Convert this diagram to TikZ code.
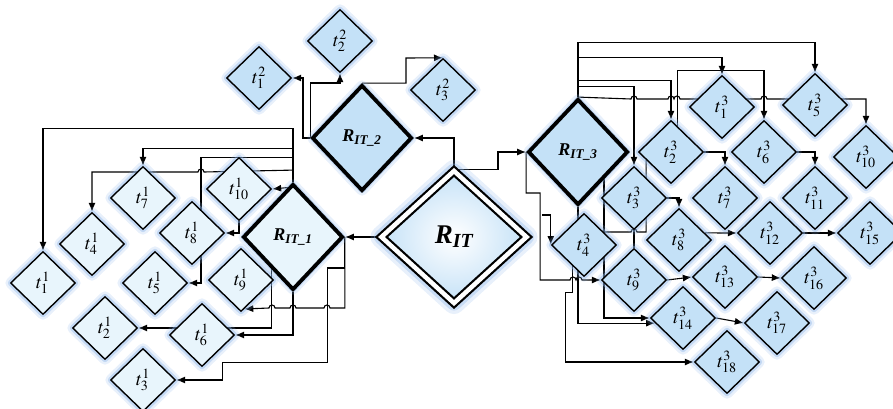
\documentclass[tikz,border=0pt]{standalone}
\usepackage{mathptmx}
\usepackage{fontspec}
\setmainfont{Liberation Serif}
\usetikzlibrary{shapes,arrows,arrows.meta,calc}
\definecolor{paleblue}{HTML}{E8F5FC}
\definecolor{skyblue}{HTML}{C4E1F7}
\definecolor{glowblue}{HTML}{8DB6EA}
\pgfdeclarelayer{bg}
\pgfsetlayers{bg,main}

\begin{document}
\begin{tikzpicture}[x=1pt, y=-1pt,
    halo/.style={preaction={draw=glowblue, line width=11pt, draw opacity=.2, line join=round},
        preaction={draw=glowblue, line width=6pt, draw opacity=.4, line join=round}},
    task/.style={diamond, draw, line width=1.4pt, inner sep=0pt, minimum width=65pt,
        minimum height=63pt, halo, font=\fontsize{19}{21}\selectfont},
    taskA/.style={task, fill=paleblue},
    taskB/.style={task, fill=skyblue},
    robot/.style={diamond, draw, line width=3.8pt, inner sep=0pt, minimum width=100pt,
        minimum height=106pt, halo, font=\fontsize{18}{20}\selectfont\bfseries\itshape},
    link/.style={line width=1.1pt, -{Latex[length=9pt,width=7pt]}},
    wire/.style={line width=1.1pt}]
    \useasboundingbox (0,0) rectangle (893,409);
    % first cluster
    \foreach \n/\x/\y in {1/43/283, 2/105/328, 3/143/380, 4/92/244, 5/155/283,
        6/202/335, 7/143/198, 8/192/233, 9/241/280, 10/239/189} {
        \node[taskA] (a\n) at (\x,\y) {$t^{1}_{\n}$};
    }
    \foreach \n/\x/\y in {1/259/78, 2/340/41, 3/443/90} {
        \node[taskB] (b\n) at (\x,\y) {$t^{2}_{\n}$};
    }
    \foreach \n/\x/\y in {1/722/107, 2/671/152, 3/634/198, 4/584/245, 5/815/105,
        6/764/152, 7/725/198, 8/679/240, 9/634/280, 10/866/157, 11/815/198,
        12/770/233, 13/725/277, 14/683/318, 15/870/233, 16/814/278, 17/777/323,
        18/727/362} {
        \node[taskB] (c\n) at (\x,\y) {$t^{3}_{\n}$};
    }
    \node[robot, fill=paleblue] (r1) at (293,237) {R\textsubscript{IT\_1}};
    \node[robot, fill=skyblue] (r2) at (362,138) {R\textsubscript{IT\_2}};
    \node[robot, fill=skyblue] (r3) at (578,152) {R\textsubscript{IT\_3}};
    \node[diamond, draw, line width=2.2pt, double=white, double distance=4.5pt,
        inner color=white, outer color=skyblue, minimum width=146pt, minimum height=133pt,
        preaction={draw=glowblue, line width=22pt, draw opacity=.2, line join=round},
        preaction={draw=glowblue, line width=15pt, draw opacity=.35, line join=round},
        font=\fontsize{27}{30}\selectfont\bfseries\itshape] (rit) at (454,237) {R\textsubscript{IT}};

    \begin{pgfonlayer}{bg}
    \draw [link] (rit.west) -- (r1.east);
    \draw [link] (rit.north) |- (r2.east);
    \draw [link] (rit.north) -| (498,152) -- (r3.west);
    % second robot
    \draw [link] (r2.west) -| (303,78) -- (b1.east);
    \draw [link] (r2.west) -- ++(0,-55) -| (b2.south);
    \draw [link] (r2.north) -| (406,58) -- (b3.north);
    % first robot
    \draw [link] (r1.north) -- ++(0,-54) -| (a1.north);
    \draw [link] (r1.north) -- ++(0,-34) -| (a7.north);
    \draw [link] (r1.north) -- ++(0,-25) -| (201,283) -- (a5.east);
    \draw [link] (r1.north) -- ++(0,-12) -- (204,172)
        arc [start angle=0, end angle=-180, radius=3] -| (a4.north);
    \draw [link] ($(r1.north)+(0,5)$) -- (a10.east);
    \draw [link] (a10.south) |- (a8.east);
    \draw [link] (r1.south) |- (a6.east);
    \draw [link] ($(r1.west)!0.58!(r1.south)$) |- (a2.east);
    \draw [link] (r1.east) |- (330,308) arc [start angle=0, end angle=-180, radius=3]
        -- (296,308) arc [start angle=0, end angle=-180, radius=3]
        -- (275,308) arc [start angle=0, end angle=-180, radius=3]
        -- ($(a9.south)!0.1!(a9.east)$);
    \draw [link] (r1.east) -- ++(0,31) -| (327.5,362.5) -- (222.5,362.5) |- (a3.east);
    % third robot
    \draw [link] (r3.north) -- ++(0,-55) -| (c5.north);
    \draw [link] (r3.north) -- ++(0,-40) -| (c1.north);
    \draw [link] (r3.north) -- ++(0,-17) -| (c2.north);
    \draw [link] (r3.north) -- ++(0,-11) -| (c3.north);
    \draw [link] (r3.north) -- (631,99) arc [start angle=180, end angle=360, radius=3]
        -- (668,99) arc [start angle=180, end angle=360, radius=3]
        arc [start angle=180, end angle=360, radius=3]
        -- (761,99) arc [start angle=180, end angle=360, radius=3] -| (c10.north);
    \draw [link] ($(c2.north)!0.2!(c2.east)$) -- ++(0,-56) -| (c6.north);
    \draw [link] (c2.east) -| (c7.north);
    \draw [link] (c6.east) -| (c11.north);
    \draw [link] (c3.east) -| (c8.north);
    \draw [link] ($(c8.east)!0.22!(c8.north)$) -- (c12.west);
    \draw [link] (c12.east) -- (c15.west);
    \draw [link] (c9.east) -- (c13.west);
    \draw [link] (c13.east) -- (c16.west);
    \draw [link] (c14.east) -- (c17.west);
    \draw [wire] (c3.south) -- (c9.north);
    \draw [wire] ($(c2.west)!0.25!(c2.south)$) |- (637,232)
        arc [start angle=0, end angle=-180, radius=3] -- (603,232);
    \coordinate (j1) at (542,215);
    \draw [link] (r3.west) -- ++(0,41) -- ++(14,0) |- (570,280)
        arc [start angle=180, end angle=360, radius=3]
        arc [start angle=180, end angle=360, radius=3] -- (c9.west);
    \draw [link] (j1) -| (c4.west);
    \draw [link] (r3.south) |- ($(c14.west)!0.16!(c14.south)$);
    \draw [link] ($(r3.east)!0.5!(r3.south)$) |- (c14.west);
    \draw [link] ($(c4.south)!0.35!(c4.west)$) -- ++(0,27) -- ++(-7,0) |- (c18.west);
    \end{pgfonlayer}
\end{tikzpicture}
\end{document}
